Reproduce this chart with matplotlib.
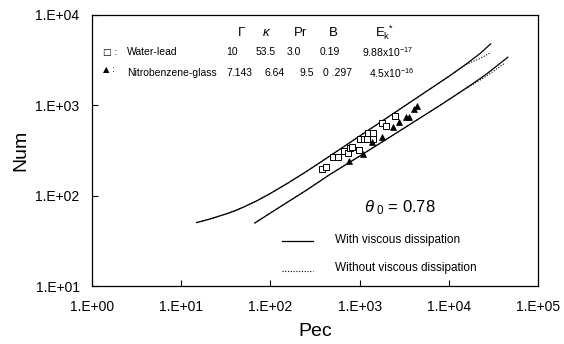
import numpy as np
import matplotlib
matplotlib.use("Agg")
import matplotlib.pyplot as plt
from matplotlib.ticker import FixedLocator, FixedFormatter, NullLocator

plt.rcParams['font.family'] = ['Liberation Sans', 'DejaVu Sans']
plt.rcParams['mathtext.fontset'] = 'custom'
plt.rcParams['mathtext.rm'] = 'Liberation Sans'
plt.rcParams['mathtext.it'] = 'Liberation Sans:italic'

# --- data ---
x_ticks = [1e0, 1e1, 1e2, 1e3, 1e4, 1e5]
x_tick_labels = ['1.E+00', '1.E+01', '1.E+02', '1.E+03', '1.E+04', '1.E+05']
y_ticks = [1e1, 1e2, 1e3, 1e4]
y_tick_labels = ['1.E+01', '1.E+02', '1.E+03', '1.E+04']

# water-lead curves (upper)
wl_pec_solid = [14.9, 20, 25, 31.6, 40, 50, 70, 100, 158, 251, 398, 1000,
                3162, 10000, 15850, 22400, 29400]
wl_num_solid = [50.7, 54.7, 58.5, 63.0, 68.4, 75.2, 87.9, 106.4, 139, 184.9,
                249.5, 458, 979, 2094, 2891, 3750, 4786]
wl_pec_dot = [14.9, 20, 25, 31.6, 40, 50, 70, 100, 158, 251, 398, 1000,
              3162, 10000, 15850, 22400, 28600]
wl_num_dot = [50.7, 54.7, 58.5, 63.0, 68.4, 75.2, 87.9, 106.4, 139, 184.9,
              249.5, 458, 979, 2094, 2851, 3311, 3776]

# nitrobenzene-glass curves (lower)
nb_pec_solid = [66.8, 100, 158, 251, 462, 1000, 3162, 7943, 15850, 25120,
                45900]
nb_num_solid = [50.1, 64.6, 86.1, 114.8, 171.8, 275, 562, 1000, 1567, 2138,
                3412]
nb_pec_dot = [66.8, 100, 158, 251, 462, 1000, 3162, 7943, 15850, 25120,
              42170]
nb_num_dot = [50.1, 64.6, 86.1, 114.8, 171.8, 275, 562, 1000, 1550, 2042,
              2924]

# experimental points
wl_pec = [383, 417, 504, 573, 669, 741, 775, 830, 977, 1002, 1111, 1242,
          1413, 1222, 1413, 1799, 1995, 2518]
wl_num = [199, 207, 267, 267, 311, 296, 336, 350, 322, 423, 423, 492,
          492, 429, 426, 646, 593, 765]
nb_pec = [761, 1092, 1390, 1766, 2366, 2761, 3281, 3573, 4036, 4395]
nb_num = [245, 290, 392, 445, 582, 652, 740, 752, 908, 987]

W, H = 564, 344


def fp(x, y):
    # pixel position -> figure fraction
    return x / W, 1 - y / H


fig = plt.figure(figsize=(W / 100, H / 100), dpi=100)
ax = fig.add_axes([92 / W, 1 - 286.3 / H, 446 / W, 271.3 / H])
ax.set_xscale('log')
ax.set_yscale('log')
ax.set_xlim(1e0, 1e5)
ax.set_ylim(1e1, 1e4)

dotted = (0, (1, 1.5))
ax.plot(wl_pec_solid, wl_num_solid, color='black', lw=0.9)
ax.plot(wl_pec_dot, wl_num_dot, color='black', lw=0.8, ls=dotted)
ax.plot(nb_pec_solid, nb_num_solid, color='black', lw=0.9)
ax.plot(nb_pec_dot, nb_num_dot, color='black', lw=0.8, ls=dotted)

ax.plot(wl_pec, wl_num, ls='none', marker='s', ms=4, mfc='white',
        mec='black', mew=0.7)
ax.plot(nb_pec, nb_num, ls='none', marker='^', ms=4.5, mfc='black',
        mec='black', mew=0.5)

ax.xaxis.set_major_locator(FixedLocator(x_ticks))
ax.xaxis.set_major_formatter(FixedFormatter(x_tick_labels))
ax.yaxis.set_major_locator(FixedLocator(y_ticks))
ax.yaxis.set_major_formatter(FixedFormatter(y_tick_labels))
ax.xaxis.set_minor_locator(NullLocator())
ax.yaxis.set_minor_locator(NullLocator())
ax.tick_params(direction='in', length=4, width=0.8, labelsize=10)
ax.tick_params(axis='x', pad=10)
ax.tick_params(axis='y', pad=9)
for s in ax.spines.values():
    s.set_linewidth(0.9)

ax.set_xlabel('Pec', fontsize=14)
ax.set_ylabel('Num', fontsize=14)
ax.xaxis.set_label_coords(0.5, -0.135)
ax.yaxis.set_label_coords(-0.14, 0.5)

# property table
hdr = [(236.7, r'$\Gamma$'), (261.7, r'$\kappa$'), (294.3, 'Pr'),
       (329.3, 'B'), (375, r'E$_\mathrm{k}^{\ *}$')]
for x, t in hdr:
    fig.text(*fp(x, 33), t, fontsize=9.5, va='center', ha='left')

row1 = [(127.3, 'Water-lead'), (226.7, '10'), (255.7, '53.5'), (286.7, '3.0'),
        (320, '0.19'), (361.7, r'9.88x10$^{-17}$')]
row2 = [(127.3, 'Nitrobenzene-glass'), (226, '7.143'), (264.3, '6.64'),
        (300, '9.5'), (323.3, '0 .297'), (369.3, r'4.5x10$^{-16}$')]
for x, t in row1:
    fig.text(*fp(x, 52), t, fontsize=7.5, va='center', ha='left')
for x, t in row2:
    fig.text(*fp(x, 73), t, fontsize=7.5, va='center', ha='left')
fig.text(*fp(103, 52), '\u25a1 :', fontsize=6.5, va='center', ha='left',
         family='DejaVu Sans')
fig.text(*fp(103, 70), '\u25b2 :', fontsize=6, va='center', ha='left',
         family='DejaVu Sans')

fig.text(*fp(364, 208), r'$\theta_{\ 0}$ = 0.78', fontsize=12, va='center',
         ha='left')

# legend
fig.lines.append(plt.Line2D([281.7 / W, 313.3 / W], [1 - 240.7 / H] * 2,
                            color='black', lw=0.9, transform=fig.transFigure))
fig.lines.append(plt.Line2D([281.7 / W, 313.3 / W], [1 - 271 / H] * 2,
                            color='black', lw=0.8, ls=dotted,
                            transform=fig.transFigure))
fig.text(*fp(335, 240.5), 'With viscous dissipation', fontsize=8.5,
         va='center', ha='left')
fig.text(*fp(335, 268.5), 'Without viscous dissipation', fontsize=8.5,
         va='center', ha='left')

fig.savefig('out.png', dpi=100)
